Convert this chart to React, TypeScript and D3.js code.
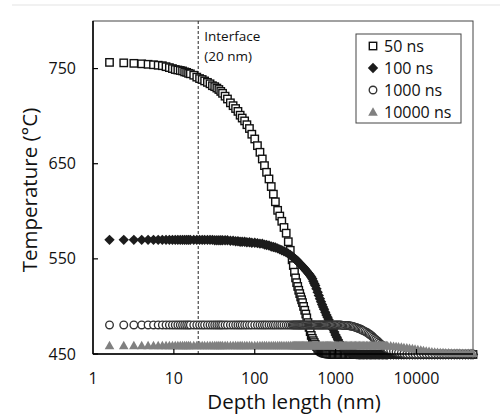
import React from "react";
import * as d3 from "d3";

// depth grid (nm) shared by every series
const depth = [
  1.6, 2.4, 3.2, 4.0, 4.8, 5.6, 6.4, 7.2, 8.0, 8.8, 9.6, 10.4, 11.2, 12, 12.8, 13.6, 14.4, 15.2, 16,
  17.6, 19.2, 20.8, 22.4, 24, 26, 28, 30, 32, 34, 36, 38, 40,
  43, 46, 50, 54, 58, 62, 66, 70, 75, 80, 86, 92, 100,
  108, 116, 124, 132, 140, 150, 160, 170, 180, 192, 204, 216, 230, 245, 260, 275,
  290, 300, 310, 320, 330, 340, 350, 360, 370, 380, 390, 402, 415, 428, 440, 455, 470, 485, 500, 515,
  530, 545, 560, 580, 600, 620, 640, 660, 680, 700, 720, 745, 770, 795, 820, 845, 870, 900, 930, 965, 1000,
  1035, 1070, 1110, 1150, 1190, 1230, 1275, 1320, 1370, 1420, 1470, 1520, 1580, 1640, 1700, 1760, 1830, 1900, 1975, 2050,
  2125, 2200, 2300, 2400, 2500, 2600, 2700, 2800, 2900, 3000, 3125, 3250, 3375, 3500, 3650, 3800, 3950, 4100, 4250, 4400,
  4800, 5200, 5600, 6000, 6500, 7000, 7600, 8200, 8900, 9600, 10400, 11300,
  12200, 13200, 14300, 15500, 16800, 18200, 19700, 21300, 23000, 25000, 27000, 29300, 31700, 34300, 37200, 40300, 43600, 47200, 50000,
];

const t50 = [
  756.5, 756, 755.5, 755, 754.5, 754, 753.5, 753, 752, 751, 750, 749, 748.5, 748, 747.5, 746.5, 746, 745, 744.5,
  743, 741, 739.5, 738.5, 737, 735.5, 734, 732, 731, 729.5, 728, 726, 724,
  721, 718, 714, 711, 708, 705, 701, 698, 695, 691, 687, 681, 676,
  669, 662, 655, 648, 641, 634, 626, 618, 610, 601, 595, 589.5, 583, 577, 568, 559,
  549, 543, 536, 530, 525, 521, 517, 513.5, 510, 507, 504, 500, 496, 492, 488, 483, 478, 473.5, 469.5, 466.5,
  464, 462, 460, 458, 456, 454.5, 453.5, 452.5, 452, 451.5, 451, 450.7, 450.5, 450.2, 450, 450, 450, 449.8, 449.5, 449.5, 449.5,
  449.5, 449.5, 449.5, 449.5, 449.5, 449.5, 449.5, 449.5, 449.5, 449.5, 449.5, 449.5, 449.5, 449.5, 449.5, 449.5, 449.5, 449.5, 449.5, 449.5,
  449.5, 449.5, 449.5, 449.5, 449.5, 449.5, 449.5, 449.5, 449.5, 449.5, 449.5, 449.5, 449.5, 449.5, 449.5, 449.5, 449.5, 449.5, 449.5, 449.5,
  449.5, 449.5, 449.5, 449.5, 449.5, 449.5, 449.5, 449.5, 449.5, 449.5, 449.5, 449.5,
  449.5, 449.5, 449.5, 449.5, 449.5, 449.5, 449.5, 449.5, 449.5, 449.5, 449.5, 449.5, 449.5, 449.5, 449.5, 449.5, 449.5, 449.5, 449.5,
];

const t100 = [
  570, 570, 570, 570, 570, 570, 570, 570, 570, 570, 570, 570, 570, 570, 570, 570, 570, 570, 570,
  570, 570, 570, 570, 570, 570, 570, 570, 569.5, 569.5, 569.5, 569.5, 569.5,
  569.5, 569.5, 569, 569, 568.5, 568.5, 568, 568, 568, 567.5, 567.5, 567, 567,
  566.5, 566, 566, 565, 564.5, 564, 563, 562.5, 562, 561, 560, 559, 558, 557, 555.5, 554,
  552.5, 551.5, 550.5, 549.5, 548.5, 547.5, 546, 545, 544, 543, 542, 541, 539.5, 538, 537, 535.5, 534, 532.5, 531, 529,
  526.5, 524, 522, 518.5, 515, 511.5, 508, 505, 502, 499.5, 497, 494, 491, 488.5, 486, 483.5, 481, 478.5, 476, 473, 470,
  467.5, 465, 462.5, 460, 458.5, 457, 455.5, 454.5, 453.5, 452.5, 452, 451.5, 451, 450.5, 450.2, 450, 449.8, 449.5, 449.5, 449.5,
  449.5, 449.5, 449.5, 449.5, 449.5, 449.5, 449.5, 449.5, 449.5, 449.5, 449.5, 449.5, 449.5, 449.5, 449.5, 449.5, 449.5, 449.5, 449.5, 449.5,
  449.5, 449.5, 449.5, 449.5, 449.5, 449.5, 449.5, 449.5, 449.5, 449.5, 449.5, 449.5,
  449.5, 449.5, 449.5, 449.5, 449.5, 449.5, 449.5, 449.5, 449.5, 449.5, 449.5, 449.5, 449.5, 449.5, 449.5, 449.5, 449.5, 449.5, 449.5,
];

const t1000 = [
  480.5, 480.5, 480.5, 480.5, 480.5, 480.5, 480.5, 480.5, 480.5, 480.5, 480.5, 480.5, 480.5, 480.5, 480.5, 480.5, 480.5, 480.5, 480.5,
  480.5, 480.5, 480.5, 480.5, 480.5, 480.5, 480.5, 480.5, 480.5, 480.5, 480.5, 480.5, 480.5,
  480.5, 480.5, 480.5, 480.5, 480.5, 480.5, 480.5, 480.5, 480.5, 480.5, 480.5, 480.5, 480.5,
  480.5, 480.5, 480.5, 480.5, 480.5, 480.5, 480.5, 480.5, 480.5, 480.5, 480.5, 480.5, 480.5, 480.5, 480.5, 480.5,
  480.5, 480.5, 480.5, 480.5, 480.5, 480.5, 480.5, 480.5, 480.5, 480.5, 480.5, 480.5, 480.5, 480.5, 480.5, 480.5, 480.5, 480.5, 480.5, 480.5,
  480.5, 480.5, 480.5, 480.5, 480.5, 480.5, 480.5, 480.5, 480.5, 480.5, 480.5, 480.5, 480.5, 480.5, 480.5, 480.5, 480.5, 480.5, 480.5, 480.5, 480.5,
  480.5, 480.5, 480.5, 480.5, 480.3, 480, 480, 480, 480, 480, 479.7, 479.5, 479.2, 479, 478.5, 478, 477.5, 477, 476.5, 476,
  475.2, 474.5, 473.8, 473, 472, 471, 470, 469, 467.8, 466.5, 465.2, 464, 462.8, 461.5, 460.2, 459, 458, 457, 456.2, 455.5,
  454, 453, 452, 451.5, 451, 450.5, 450, 450, 450, 450, 450, 450,
  450, 450, 450, 450, 450, 450, 450, 450, 450, 450, 450, 450, 450, 450, 450, 450, 450, 450, 450,
];

const t10000 = [
  459, 459, 459, 459, 459, 459, 459, 459, 459, 459, 459, 459, 459, 459, 459, 459, 459, 459, 459,
  459, 459, 459, 459, 459, 459, 459, 459, 459, 459, 459, 459, 459,
  459, 459, 459, 459, 459, 459, 459, 459, 459, 459, 459, 459, 459,
  459, 459, 459, 459, 459, 459, 459, 459, 459, 459, 459, 459, 459, 459, 459, 459,
  459, 459, 459, 459, 459, 459, 459, 459, 459, 459, 459, 459, 459, 459, 459, 459, 459, 459, 459, 459,
  459, 459, 459, 459, 459, 459, 459, 459, 459, 459, 459, 459, 459, 459, 459, 459, 459, 459, 459, 459, 459,
  459, 459, 459, 459, 459, 459, 459, 459, 459, 459, 459, 459, 459, 459, 459, 459, 459, 459, 459, 459,
  459, 459, 459, 459, 459, 459, 459, 459, 459, 459, 459, 459, 459, 459, 459, 459, 459, 459, 458.9, 458.8,
  458.6, 458.3, 458, 457.7, 457.3, 457, 456.6, 456.2, 455.8, 455.3, 454.8, 454.3,
  453.8, 453.3, 452.9, 452.5, 452.2, 451.9, 451.7, 451.5, 451.4, 451.3, 451.2, 451.1, 451, 451, 450.9, 450.9, 450.8, 450.8, 450.8,
];

const seriesNames = ["50 ns", "100 ns", "1000 ns", "10000 ns"];
const xTicks = [1, 10, 100, 1000, 10000];
const yTicks = [450, 550, 650, 750];
const interfaceDepth = 20;

const W = 500;
const H = 416;
const font = "'Open Sans', sans-serif";

function Marker({ kind, x, y }: { kind: number; x: number; y: number }) {
  if (kind === 0)
    return <rect x={x - 3.7} y={y - 3.7} width={7.4} height={7.4} fill="#fff" stroke="#111" strokeWidth={1.4} />;
  if (kind === 1)
    return <path d={`M${x},${y - 5.2}L${x + 5.2},${y}L${x},${y + 5.2}L${x - 5.2},${y}Z`} fill="#1c1c1c" />;
  if (kind === 2)
    return <circle cx={x} cy={y} r={3.8} fill="#fff" stroke="#333" strokeWidth={1.35} />;
  return <path d={`M${x},${y - 4.7}L${x + 4.8},${y + 3.7}L${x - 4.8},${y + 3.7}Z`} fill="#808080" />;
}

export default function App() {
  const x = d3.scaleLog().domain([1, 50000]).range([93, 473]);
  const y = d3.scaleLinear().domain([450, 800]).range([354, 21]);
  const series = [t50, t100, t1000, t10000];

  return (
    <svg width={W} height={H} style={{ position: "absolute", left: 0, top: 0, background: "#fff" }}>
      <line x1={12} x2={W} y1={5} y2={5} stroke="#e3e3e3" strokeWidth={1} />

      {/* plot frame */}
      <rect x={x(1)} y={y(800)} width={x(50000) - x(1)} height={y(450) - y(800)} fill="none" stroke="#444" strokeWidth={1} />

      {/* interface marker */}
      <line x1={x(interfaceDepth)} x2={x(interfaceDepth)} y1={y(800)} y2={y(450)} stroke="#222" strokeWidth={1} strokeDasharray="3,2" />
      <text x={x(interfaceDepth) + 6} y={41} fontFamily={font} fontSize={13.5} fill="#111">Interface</text>
      <text x={x(interfaceDepth) + 6} y={61} fontFamily={font} fontSize={13.5} fill="#111">(20 nm)</text>

      {/* data */}
      {series.map((vals, si) => (
        <g key={si}>
          {depth.map((d, i) => (
            <Marker key={i} kind={si} x={x(d)} y={y(vals[i])} />
          ))}
        </g>
      ))}

      {/* axes */}
      <line x1={x(1)} x2={x(1)} y1={y(800)} y2={y(450)} stroke="#000" strokeWidth={1.5} />
      <line x1={x(1)} x2={x(50000)} y1={y(450)} y2={y(450)} stroke="#000" strokeWidth={1.5} />
      {yTicks.map((t) => (
        <g key={t}>
          <line x1={x(1)} x2={x(1) + 5} y1={y(t)} y2={y(t)} stroke="#000" strokeWidth={1.2} />
          <text x={76} y={y(t)} dy="0.35em" textAnchor="end" fontFamily={font} fontSize={16} fill="#111">{t}</text>
        </g>
      ))}
      {xTicks.map((t) => (
        <g key={t}>
          {t > 1 && <line x1={x(t)} x2={x(t)} y1={y(450)} y2={y(450) - 5} stroke="#000" strokeWidth={1.2} />}
          <text x={x(t)} y={384} textAnchor="middle" fontFamily={font} fontSize={16} fill="#111">{t}</text>
        </g>
      ))}

      <text x={294} y={409} textAnchor="middle" fontFamily={font} fontSize={20.5} fill="#111">Depth length (nm)</text>
      <text transform="translate(37,190) rotate(-90)" textAnchor="middle" fontFamily={font} fontSize={20.5} fill="#111">Temperature (°C)</text>

      {/* legend */}
      <rect x={356} y={34} width={105} height={89} fill="#fff" stroke="#444" strokeWidth={1} />
      {seriesNames.map((name, i) => (
        <g key={name}>
          <Marker kind={i} x={373} y={46 + i * 22} />
          <text x={384} y={46 + i * 22} dy="0.36em" fontFamily={font} fontSize={16} fill="#111">{name}</text>
        </g>
      ))}
    </svg>
  );
}
